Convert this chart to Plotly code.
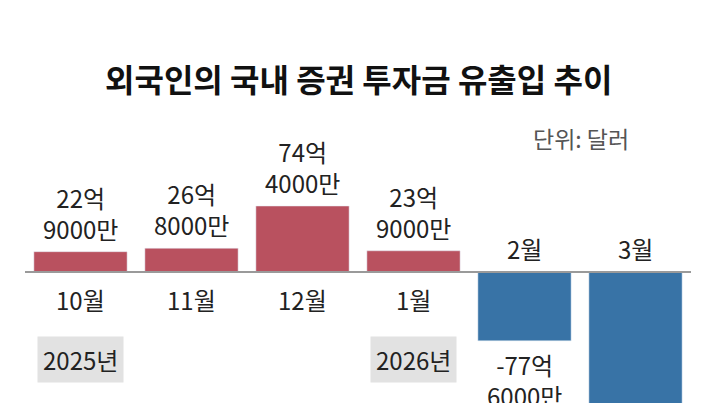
import plotly.graph_objects as go

months = ['10월', '11월', '12월', '1월', '2월', '3월']
values = [22.9, 26.8, 74.4, 23.9, -77.6, -200.0]
value_labels = ['22억<br>9000만', '26억<br>8000만', '74억<br>4000만', '23억<br>9000만', '-77억<br>6000만', '']
year_labels = {'10월': '2025년', '1월': '2026년'}

font = 'Noto Sans CJK KR'
red = '#b9515f'
blue = '#3873a6'
colors = [red if v > 0 else blue for v in values]

fig = go.Figure(go.Bar(x=months, y=values, marker_color=colors, width=0.84))

for m, v, lab in zip(months, values, value_labels):
    if v > 0:
        fig.add_annotation(x=m, y=v, text=lab, showarrow=False, yanchor='bottom', yshift=4,
                           font=dict(size=24, color='#222'))
        fig.add_annotation(x=m, y=0, text=m, showarrow=False, yanchor='top', yshift=-8,
                           font=dict(size=24, color='#222'))
    else:
        fig.add_annotation(x=m, y=0, text=m, showarrow=False, yanchor='bottom', yshift=4,
                           font=dict(size=24, color='#222'))
        if lab:
            fig.add_annotation(x=m, y=v, text=lab, showarrow=False, yanchor='top', yshift=-4,
                               font=dict(size=24, color='#222'))

for m, yl in year_labels.items():
    fig.add_annotation(x=m, y=0, text=yl, showarrow=False, yanchor='middle', yshift=-88,
                       font=dict(size=24, color='#222'), bgcolor='#e2e2e2', borderpad=5)

fig.add_hline(y=0, line=dict(color='#9a9a9a', width=2))

fig.add_annotation(x=0.5, y=1, xref='paper', yref='paper', yshift=-70, text='<b>외국인의 국내 증권 투자금 유출입 추이</b>',
                   showarrow=False, yanchor='middle', font=dict(size=32, color='#111'))
fig.add_annotation(x=0.91, y=1, xref='paper', yref='paper', yshift=-130, text='단위: 달러',
                   showarrow=False, xanchor='right', yanchor='middle', font=dict(size=23, color='#555'))

fig.update_layout(
    width=716, height=403,
    margin=dict(l=17, r=33, t=0, b=0),
    paper_bgcolor='white', plot_bgcolor='white',
    font=dict(family=font),
    showlegend=False,
    bargap=0.16,
    xaxis=dict(visible=False),
    yaxis=dict(visible=False, range=[-156.7, 297.6]),
)

fig.write_html('out.html')
